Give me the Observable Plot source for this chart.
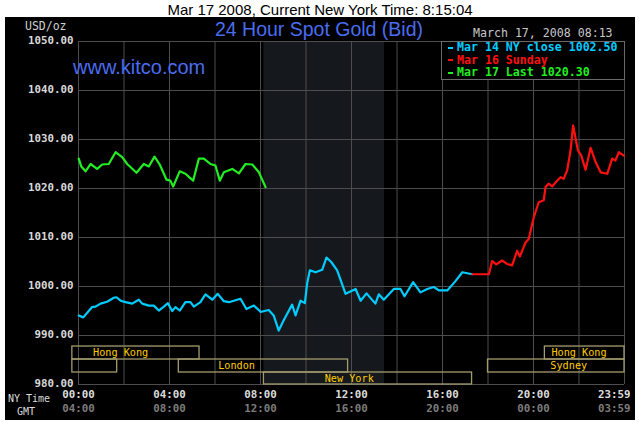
<!DOCTYPE html>
<html>
<head>
<meta charset="utf-8">
<script src="https://cdn.jsdelivr.net/npm/d3@7"></script>
<script src="https://cdn.jsdelivr.net/npm/@observablehq/plot@0.6"></script>
<style>
  body { margin:0; background:#fff; width:640px; height:423px; position:relative; overflow:hidden; }
  .abs { position:absolute; white-space:nowrap; }
  .mono { font-family:"DejaVu Sans Mono", monospace; }
</style>
</head>
<body>
<div class="abs" style="left:0;top:1px;width:640px;text-align:center;font:15px 'Liberation Sans',Arial,sans-serif;line-height:17px;color:#000">Mar 17 2008, Current New York Time: 8:15:04</div>
<div id="chart" class="abs" style="left:5px;top:17px;width:630px;height:403px;background:#000"></div>
<div class="abs mono" style="left:25px;top:19px;font-size:11.5px;line-height:14px;color:#cfcfcf">USD/oz</div>
<div class="abs" style="left:0;top:17px;width:638px;text-align:center;font:19.5px 'Liberation Sans',Arial,sans-serif;line-height:24px;color:#4a6cf0">24 Hour Spot Gold (Bid)</div>
<div class="abs mono" style="left:473px;top:26px;font-size:11.6px;line-height:14px;color:#c8c8c8">March 17, 2008 08:13</div>
<div class="abs" style="left:73px;top:55px;font:20px 'Liberation Sans',Arial,sans-serif;line-height:24px;color:#4a6cf0">www.kitco.com</div>
<div id="legend" class="abs" style="left:441px;top:41px;width:182px;height:37px;border:1px solid #6a6a6a;background:#000"></div>
<div class="abs mono" style="left:8px;top:392px;font-size:10px;line-height:13px;color:#dcdcdc">NY Time</div>
<div class="abs mono" style="left:17px;top:405px;font-size:10px;line-height:13px;color:#dcdcdc">GMT</div>
<script>
// ---- data ----
const cyanHours = [0.01,0.21,0.60,0.75,0.97,1.26,1.55,1.67,1.85,2.07,2.36,2.65,2.80,3.09,3.31,3.53,3.75,3.93,4.12,4.26,4.45,4.70,4.92,5.07,5.36,5.58,5.88,6.12,6.39,6.61,7.12,7.38,7.71,7.97,8.00,8.36,8.58,8.80,9.02,9.39,9.54,9.76,9.95,10.05,10.17,10.42,10.71,10.90,11.11,11.37,11.74,12.18,12.40,12.66,13.05,13.20,13.42,13.86,14.15,14.33,14.71,15.03,15.33,15.62,15.84,16.21,16.57,16.87,17.31];
const cyanValues = [994.1,993.7,995.8,995.9,996.5,996.9,997.7,997.8,997.1,996.8,996.5,997.3,996.5,996.1,996.1,995.1,995.9,996.6,995.0,995.8,995.1,996.8,996.8,995.9,996.8,998.4,997.3,998.5,997.0,996.8,997.5,995.4,996.1,995.0,994.8,995.2,994.1,991.0,993.1,996.3,994.1,997.1,996.6,1000.6,1003.3,1002.9,1003.4,1005.9,1005.0,1003.3,998.5,999.5,997.1,998.6,996.5,998.4,997.3,999.5,999.5,998.0,1000.9,998.8,999.5,999.9,999.2,999.2,1001.1,1002.9,1002.5];
const redHours = [17.31,18.04,18.18,18.37,18.62,18.84,19.06,19.28,19.40,19.65,19.79,20.01,20.23,20.45,20.53,20.67,20.82,21.04,21.19,21.33,21.48,21.63,21.74,21.95,22.10,22.29,22.51,22.73,22.95,23.24,23.46,23.60,23.75,23.97];
const redValues = [1002.5,1002.5,1005.2,1004.5,1005.3,1004.6,1004.3,1007.3,1006.1,1009.0,1009.7,1014.1,1017.2,1017.6,1020.3,1021.0,1020.4,1021.6,1022.3,1022.0,1023.7,1027.8,1032.9,1027.8,1026.7,1023.8,1028.3,1025.4,1023.3,1023.0,1026.1,1025.7,1027.4,1026.7];
const greenHours = [0.01,0.12,0.31,0.53,0.82,1.04,1.33,1.63,1.92,2.14,2.55,2.87,3.09,3.34,3.57,3.87,4.04,4.16,4.45,4.70,5.04,5.29,5.51,5.80,6.02,6.21,6.39,6.76,7.05,7.34,7.64,7.93,8.22];
const greenValues = [1026.1,1024.5,1023.5,1025.0,1024.0,1024.9,1025.0,1027.4,1026.4,1025.0,1023.2,1025.0,1024.5,1026.5,1024.9,1021.8,1021.6,1020.4,1023.5,1023.0,1021.6,1026.1,1026.1,1025.0,1024.7,1021.6,1023.3,1024.0,1023.1,1025.0,1024.9,1023.3,1020.3];

const legendLabels = ["Mar 14 NY close 1002.50", "Mar 16 Sunday", "Mar 17 Last 1020.30"];
const seriesColors = ["#00ccff", "#ff1010", "#22ee22"];

const sessionNames = ["Hong Kong", "", "London", "New York", "Hong Kong", "Sydney"];
const sessionStart = [-0.27, -0.27, 4.41, 8.15, 20.5, 18.0];
const sessionEnd   = [5.32, 1.70, 11.85, 17.3, 24, 24];
const sessionRow   = [0, 1, 1, 2, 0, 1];
const sessionLabelAt = [1.85, null, 6.95, 11.9, 22.0, 21.55];
const nyShade = {start: 8.15, end: 13.45};

const yTicks = [980, 990, 1000, 1010, 1020, 1030, 1040, 1050];
const gridHours = [0,2,4,6,8,10,12,14,16,18,20,22,24];
const xTickHours = [0,4,8,12,16,20];
const nyLabels = ["00:00","04:00","08:00","12:00","16:00","20:00"];
const gmtLabels = ["04:00","08:00","12:00","16:00","20:00","00:00"];
const lastNY = "23:59", lastGMT = "03:59";

// ---- build ----
const rowEdges = [987.75, 985.1, 982.45, 980];
const toPts = (h, v) => h.map((x, i) => ({h: x, v: v[i]}));
const cyan = toPts(cyanHours, cyanValues);
const red = toPts(redHours, redValues);
const green = toPts(greenHours, greenValues);
const sessions = sessionNames.map((n, i) => ({
  name: n, x1: sessionStart[i], x2: sessionEnd[i],
  y1: rowEdges[sessionRow[i]], y2: rowEdges[sessionRow[i] + 1],
  lx: sessionLabelAt[i], ly: (rowEdges[sessionRow[i]] + rowEdges[sessionRow[i] + 1]) / 2
}));
const monoB = {fontFamily: "DejaVu Sans Mono, monospace", fontSize: 10.8, fontWeight: "bold"};

const chart = Plot.plot({
  width: 630, height: 403,
  marginLeft: 73, marginRight: 11, marginTop: 24, marginBottom: 36,
  style: {background: "#000", overflow: "visible"},
  x: {domain: [0, 24], axis: null},
  y: {domain: [980, 1050], axis: null},
  marks: [
    Plot.rect([nyShade], {x1: "start", x2: "end", y1: 980, y2: 1050, fill: "#15191d"}),
    Plot.ruleX(gridHours, {x: d => d, y1: 980, y2: 1050, stroke: "#4d4d4d", strokeWidth: 1}),
    Plot.ruleY(yTicks, {y: d => d, x1: 0, x2: 24, stroke: "#4d4d4d", strokeWidth: 1}),
    Plot.rect(sessions, {x1: "x1", x2: "x2", y1: "y1", y2: "y2", fill: "none", stroke: "#a39c6c", strokeWidth: 1.3}),
    Plot.text(sessions.filter(d => d.name), {x: "lx", y: "ly", text: "name", fill: "#ffcc00",
      fontFamily: "DejaVu Sans Mono, monospace", fontSize: 10.2}),
    Plot.line(cyan, {x: "h", y: "v", stroke: seriesColors[0], strokeWidth: 2.2}),
    Plot.line(red, {x: "h", y: "v", stroke: seriesColors[1], strokeWidth: 2.2}),
    Plot.line(green, {x: "h", y: "v", stroke: seriesColors[2], strokeWidth: 2.2}),
    Plot.text(yTicks, {x: 0, y: d => d, text: d => d.toFixed(2), textAnchor: "end", dx: -5, dy: -1, fill: "#d8d8d8", ...monoB}),
    Plot.text(xTickHours, {x: d => d, frameAnchor: "bottom", dy: 13, text: (d, i) => nyLabels[i], fill: "#dcdcdc", ...monoB}),
    Plot.text(xTickHours, {x: d => d, frameAnchor: "bottom", dy: 27, text: (d, i) => gmtLabels[i], fill: "#7c7c7c", ...monoB}),
    Plot.text([24], {x: d => d, frameAnchor: "bottom", dy: 13, text: () => lastNY, textAnchor: "end", dx: 6, fill: "#dcdcdc", ...monoB}),
    Plot.text([24], {x: d => d, frameAnchor: "bottom", dy: 27, text: () => lastGMT, textAnchor: "end", dx: 6, fill: "#7c7c7c", ...monoB})
  ]
});
document.getElementById("chart").appendChild(chart);

// legend
const leg = document.getElementById("legend");
legendLabels.forEach((t, i) => {
  const row = document.createElement("div");
  row.className = "abs mono";
  row.style.cssText = `left:6px;top:${-1 + i * 12.7}px;font-size:11.6px;font-weight:bold;line-height:13px;color:${seriesColors[i]}`;
  row.innerHTML = `<span style="display:inline-block;width:5px;height:2px;background:${seriesColors[i]};vertical-align:middle;margin-right:4px"></span>${t}`;
  leg.appendChild(row);
});
</script>
</body>
</html>
